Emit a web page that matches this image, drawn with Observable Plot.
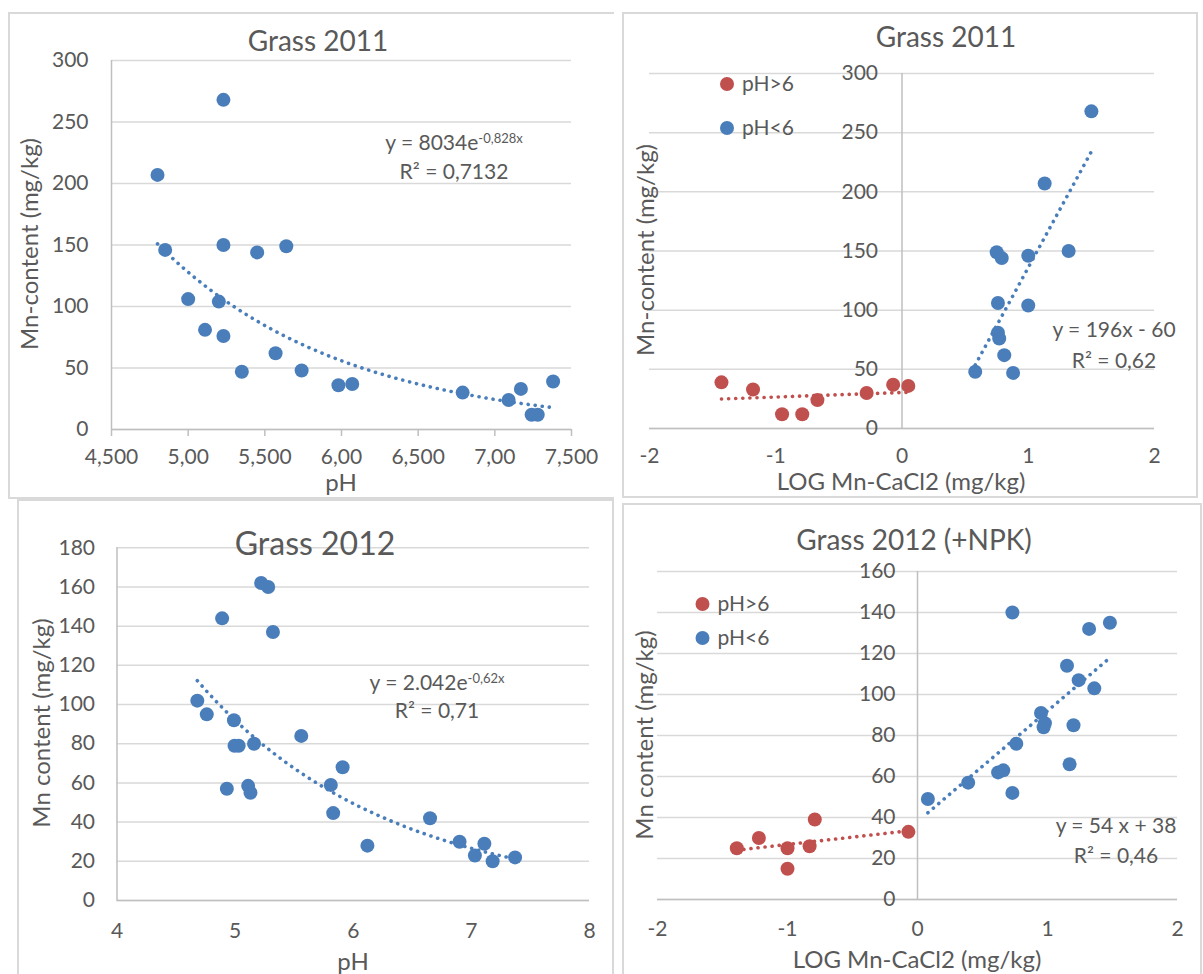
<!DOCTYPE html>
<html>
<head>
<meta charset="utf-8">
<script src="https://cdn.jsdelivr.net/npm/d3@7"></script>
<script src="https://cdn.jsdelivr.net/npm/@observablehq/plot@0.6"></script>
<style>
  body { margin: 0; background: #fff; }
  #root { position: relative; width: 1203px; height: 974px; overflow: hidden; font-family: Lato, sans-serif; color: #595959; background: #fff; }
  .frame { position: absolute; box-sizing: border-box; border-color: #d9d9d9; border-style: solid; border-width: 0; }
  #root svg { position: absolute; overflow: visible; }
</style>
</head>
<body>
<div id="root"></div>
<script>
// ---------- Grass 2011: Mn-content vs pH ----------
const pH2011 = [4.80, 4.85, 5.23, 5.23, 5.45, 5.64, 5.00, 5.20, 5.11, 5.23, 5.35, 5.57, 5.74, 5.98, 6.07, 6.79, 7.09, 7.17, 7.24, 7.28, 7.38];
const mn2011 = [207, 146, 268, 150, 144, 149, 106, 104, 81, 76, 47, 62, 48, 36, 37, 30, 24, 33, 12, 12, 39];
const pH2011Ticks = [4.5, 5, 5.5, 6, 6.5, 7, 7.5];
const pH2011TickLabels = ["4,500", "5,00", "5,500", "6,00", "6,500", "7,00", "7,500"];
const mn2011Ticks = [0, 50, 100, 150, 200, 250, 300];
const fit2011A = 8034, fit2011B = -0.828;

// ---------- Grass 2011: Mn-content vs LOG Mn-CaCl2 ----------
const log2011High = [-1.43, -1.18, -0.95, -0.79, -0.67, -0.28, -0.07, 0.05];   // pH>6
const mn2011High = [39, 33, 12, 12, 24, 30, 37, 36];
const log2011Low = [1.50, 1.13, 1.32, 0.75, 1.00, 0.79, 0.76, 1.00, 0.76, 0.77, 0.81, 0.58, 0.88]; // pH<6
const mn2011Low = [268, 207, 150, 149, 146, 144, 106, 104, 81, 76, 62, 48, 47];
const logTicks = [-2, -1, 0, 1, 2];
const fit2011LogSlope = 196, fit2011LogIntercept = -60;

// ---------- Grass 2012: Mn content vs pH ----------
const pH2012 = [4.68, 4.76, 4.89, 4.93, 4.99, 4.995, 5.03, 5.16, 5.11, 5.13, 5.22, 5.28, 5.32, 5.56, 5.81, 5.83, 5.91, 6.12, 6.65, 6.90, 7.03, 7.11, 7.18, 7.37];
const mn2012 = [102, 95, 144, 57, 92, 79, 79, 80, 58.5, 55, 162, 160, 137, 84, 59, 44.6, 68, 28, 42, 30, 23, 29, 20, 22];
const pH2012Ticks = [4, 5, 6, 7, 8];
const mn2012Ticks = [0, 20, 40, 60, 80, 100, 120, 140, 160, 180];
const fit2012A = 2042, fit2012B = -0.62;

// ---------- Grass 2012 (+NPK): Mn content vs LOG Mn-CaCl2 ----------
const logNpkHigh = [-1.39, -1.22, -1.00, -1.00, -0.83, -0.79, -0.07];  // pH>6
const mnNpkHigh = [25, 30, 25, 15, 26, 39, 33];
const logNpkLow = [0.08, 0.39, 0.62, 0.66, 0.73, 0.73, 0.76, 0.95, 0.97, 0.98, 1.15, 1.17, 1.20, 1.24, 1.36, 1.32, 1.48]; // pH<6
const mnNpkLow = [49, 57, 62, 63, 52, 140, 76, 91, 84, 86, 114, 66, 85, 107, 103, 132, 135];
const mnNpkTicks = [0, 20, 40, 60, 80, 100, 120, 140, 160];
const fitNpkSlope = 54, fitNpkIntercept = 38;

// ---------- styling ----------
const GRID = "#d9d9d9", AXIS = "#bfbfbf", TEXT = "#595959", BLUE = "#4a7ebb", RED = "#c0504d";
const TICKFS = 21, AXFS = 24;
const R = 7;
const trendStyle = { strokeWidth: 3.6, strokeDasharray: "0.1,7", strokeLinecap: "round" };
const plotStyle = { background: "transparent", fontFamily: "Lato, sans-serif", fontSize: TICKFS + "px", color: TEXT, overflow: "visible" };

const pts = (xs, ys) => xs.map((x, i) => ({ x, y: ys[i] }));
function expTrend(xs, a, b) {
  const [lo, hi] = d3.extent(xs);
  return d3.range(61).map(i => { const x = lo + (hi - lo) * i / 60; return { x, y: a * Math.exp(b * x) }; });
}
function linTrend(xs, m, c) {
  return d3.extent(xs).map(x => ({ x, y: m * x + c }));
}

const root = document.getElementById("root");
function place(svg, f) { svg.style.left = f.x + "px"; svg.style.top = f.y + "px"; root.appendChild(svg); }
function frame(x, y, w, h, sides) {
  const d = document.createElement("div");
  d.className = "frame";
  Object.assign(d.style, { left: x + "px", top: y + "px", width: w + "px", height: h + "px" });
  for (const s of sides) d.style["border" + s + "Width"] = "2px";
  root.appendChild(d);
}

frame(8, 12, 606, 487, ["Left", "Top", "Bottom"]);
frame(622, 12, 576, 486, ["Left", "Top", "Right", "Bottom"]);
frame(17, 499, 597, 490, ["Left", "Top", "Right"]);
frame(622, 503, 580, 490, ["Left", "Top", "Right"]);

// ---------- Panel 1 ----------
const F1 = { x: 8, y: 12, w: 604, h: 486 };
place(Plot.plot({
  width: F1.w, height: F1.h,
  marginLeft: 103, marginRight: 41, marginTop: 48, marginBottom: 69,
  x: { domain: [4.5, 7.5] }, y: { domain: [0, 300] },
  style: plotStyle,
  marks: [
    Plot.gridY(mn2011Ticks, { stroke: GRID, strokeOpacity: 1, strokeWidth: 1.5 }),
    Plot.ruleX([4.5], { stroke: AXIS, strokeWidth: 1.5 }),
    Plot.ruleY([0], { stroke: AXIS, strokeWidth: 1.5 }),
    Plot.axisY(mn2011Ticks, { tickSize: 0, tickPadding: 23, label: null, fill: TEXT, fontSize: TICKFS }),
    Plot.axisX(pH2011Ticks, { tickSize: 7, tickPadding: 13, label: null, stroke: AXIS, strokeWidth: 1.5, fill: TEXT, fontSize: TICKFS,
      tickFormat: d => pH2011TickLabels[pH2011Ticks.indexOf(d)] }),
    Plot.dot(pts(pH2011, mn2011), { x: "x", y: "y", r: R, fill: BLUE }),
    Plot.line(expTrend(pH2011, fit2011A, fit2011B), { x: "x", y: "y", stroke: BLUE, ...trendStyle })
  ]
}), F1);

// ---------- Panel 2 ----------
const F2 = { x: 622, y: 12, w: 576, h: 485 };
place(Plot.plot({
  width: F2.w, height: F2.h,
  marginLeft: 27, marginRight: 44, marginTop: 61, marginBottom: 69,
  x: { domain: [-2, 2] }, y: { domain: [0, 300], axis: null },
  style: plotStyle,
  marks: [
    Plot.gridY(mn2011Ticks, { stroke: GRID, strokeOpacity: 1, strokeWidth: 1.5 }),
    Plot.ruleX([0], { stroke: AXIS, strokeWidth: 1.5 }),
    Plot.ruleY([0], { stroke: AXIS, strokeWidth: 1.5 }),
    Plot.text(mn2011Ticks, { x: () => 0, y: d => d, text: d => String(d), textAnchor: "end", dx: -24, fill: TEXT, fontSize: TICKFS }),
    Plot.axisX(logTicks, { tickSize: 0, tickPadding: 20, label: null, fill: TEXT, fontSize: TICKFS, tickFormat: d => String(d) }),
    Plot.dot(pts(log2011High, mn2011High), { x: "x", y: "y", r: R, fill: RED }),
    Plot.dot(pts(log2011Low, mn2011Low), { x: "x", y: "y", r: R, fill: BLUE }),
    Plot.linearRegressionY(pts(log2011High, mn2011High), { x: "x", y: "y", ci: 0, stroke: RED, ...trendStyle }),
    Plot.line(linTrend(log2011Low, fit2011LogSlope, fit2011LogIntercept), { x: "x", y: "y", stroke: BLUE, ...trendStyle })
  ]
}), F2);

// ---------- Panel 3 ----------
const F3 = { x: 17, y: 499, w: 596, h: 481 };
place(Plot.plot({
  width: F3.w, height: F3.h,
  marginLeft: 99.5, marginRight: 24, marginTop: 48.3, marginBottom: 80,
  x: { domain: [4, 8] }, y: { domain: [0, 180] },
  style: plotStyle,
  marks: [
    Plot.gridY(mn2012Ticks, { stroke: GRID, strokeOpacity: 1, strokeWidth: 1.5 }),
    Plot.ruleX([4], { stroke: AXIS, strokeWidth: 1.5 }),
    Plot.ruleY([0], { stroke: AXIS, strokeWidth: 1.5 }),
    Plot.axisY(mn2012Ticks, { tickSize: 0, tickPadding: 22, label: null, fill: TEXT, fontSize: TICKFS }),
    Plot.axisX(pH2012Ticks, { tickSize: 0, tickPadding: 23, label: null, fill: TEXT, fontSize: TICKFS, tickFormat: d => String(d) }),
    Plot.dot(pts(pH2012, mn2012), { x: "x", y: "y", r: R, fill: BLUE }),
    Plot.line(expTrend(pH2012, fit2012A, fit2012B), { x: "x", y: "y", stroke: BLUE, ...trendStyle })
  ]
}), F3);

// ---------- Panel 4 ----------
const F4 = { x: 622, y: 503, w: 579, h: 477 };
place(Plot.plot({
  width: F4.w, height: F4.h,
  marginLeft: 35, marginRight: 24, marginTop: 68, marginBottom: 81,
  x: { domain: [-2, 2] }, y: { domain: [0, 160], axis: null },
  style: plotStyle,
  marks: [
    Plot.gridY(mnNpkTicks, { stroke: GRID, strokeOpacity: 1, strokeWidth: 1.5 }),
    Plot.ruleX([0], { stroke: AXIS, strokeWidth: 1.5 }),
    Plot.ruleY([0], { stroke: AXIS, strokeWidth: 1.5 }),
    Plot.text(mnNpkTicks, { x: () => 0, y: d => d, text: d => String(d), textAnchor: "end", dx: -22, fill: TEXT, fontSize: TICKFS }),
    Plot.axisX(logTicks, { tickSize: 0, tickPadding: 22, label: null, fill: TEXT, fontSize: TICKFS, tickFormat: d => String(d) }),
    Plot.dot(pts(logNpkHigh, mnNpkHigh), { x: "x", y: "y", r: R, fill: RED }),
    Plot.dot(pts(logNpkLow, mnNpkLow), { x: "x", y: "y", r: R, fill: BLUE }),
    Plot.linearRegressionY(pts(logNpkHigh, mnNpkHigh), { x: "x", y: "y", ci: 0, stroke: RED, ...trendStyle }),
    Plot.line(linTrend(logNpkLow, fitNpkSlope, fitNpkIntercept), { x: "x", y: "y", stroke: BLUE, ...trendStyle })
  ]
}), F4);

// ---------- text overlay: titles, axis titles, legends, equations ----------
const ov = d3.select(root).append("svg")
  .attr("width", 1203).attr("height", 974)
  .style("left", "0px").style("top", "0px").style("pointer-events", "none")
  .attr("font-family", "Lato, sans-serif").attr("fill", TEXT);

function T(x, y, str, size, anchor = "middle") {
  return ov.append("text").attr("x", x).attr("y", y).attr("font-size", size).attr("text-anchor", anchor).text(str);
}
function TV(x, y, str, size) {
  return ov.append("text").attr("transform", `translate(${x},${y}) rotate(-90)`).attr("font-size", size).attr("text-anchor", "middle").text(str);
}
function eq(x, y, main, sup, size) {
  const t = ov.append("text").attr("x", x).attr("y", y).attr("font-size", size).attr("text-anchor", "middle");
  t.append("tspan").text(main);
  if (sup) t.append("tspan").attr("font-size", 13).attr("dy", -7).text(sup);
  return t;
}
function legend(cx, cy, color, label) {
  ov.append("circle").attr("cx", cx).attr("cy", cy).attr("r", 7).attr("fill", color);
  T(cx + 15, cy + 7, label, 21, "start");
}

// Panel 1
T(318, 51, "Grass 2011", 28);
T(341, 491, "pH", AXFS);
TV(38, 244, "Mn-content (mg/kg)", AXFS);
eq(454, 150, "y = 8034e", "-0,828x", 21);
eq(454, 179, "R² = 0,7132", null, 21);

// Panel 2
T(946, 47, "Grass 2011", 28);
T(901, 490, "LOG Mn-CaCl2 (mg/kg)", AXFS);
TV(654, 250, "Mn-content (mg/kg)", AXFS);
legend(727, 84, RED, "pH>6");
legend(727, 128, BLUE, "pH<6");
eq(1114, 337, "y = 196x - 60", null, 21);
eq(1114, 368, "R² = 0,62", null, 21);

// Panel 3
T(315, 555, "Grass 2012", 32);
T(353, 970, "pH", AXFS);
TV(50, 723, "Mn content (mg/kg)", AXFS);
eq(437, 690, "y = 2.042e", "-0,62x", 21);
eq(437, 718, "R² = 0,71", null, 21);

// Panel 4
T(914, 550, "Grass 2012 (+NPK)", 28);
T(917, 968, "LOG Mn-CaCl2 (mg/kg)", AXFS);
TV(653, 735, "Mn content (mg/kg)", AXFS);
legend(702.5, 604, RED, "pH>6");
legend(702.5, 638, BLUE, "pH<6");
eq(1116, 833, "y = 54 x + 38", null, 21);
eq(1116, 863, "R² = 0,46", null, 21);
</script>
</body>
</html>
